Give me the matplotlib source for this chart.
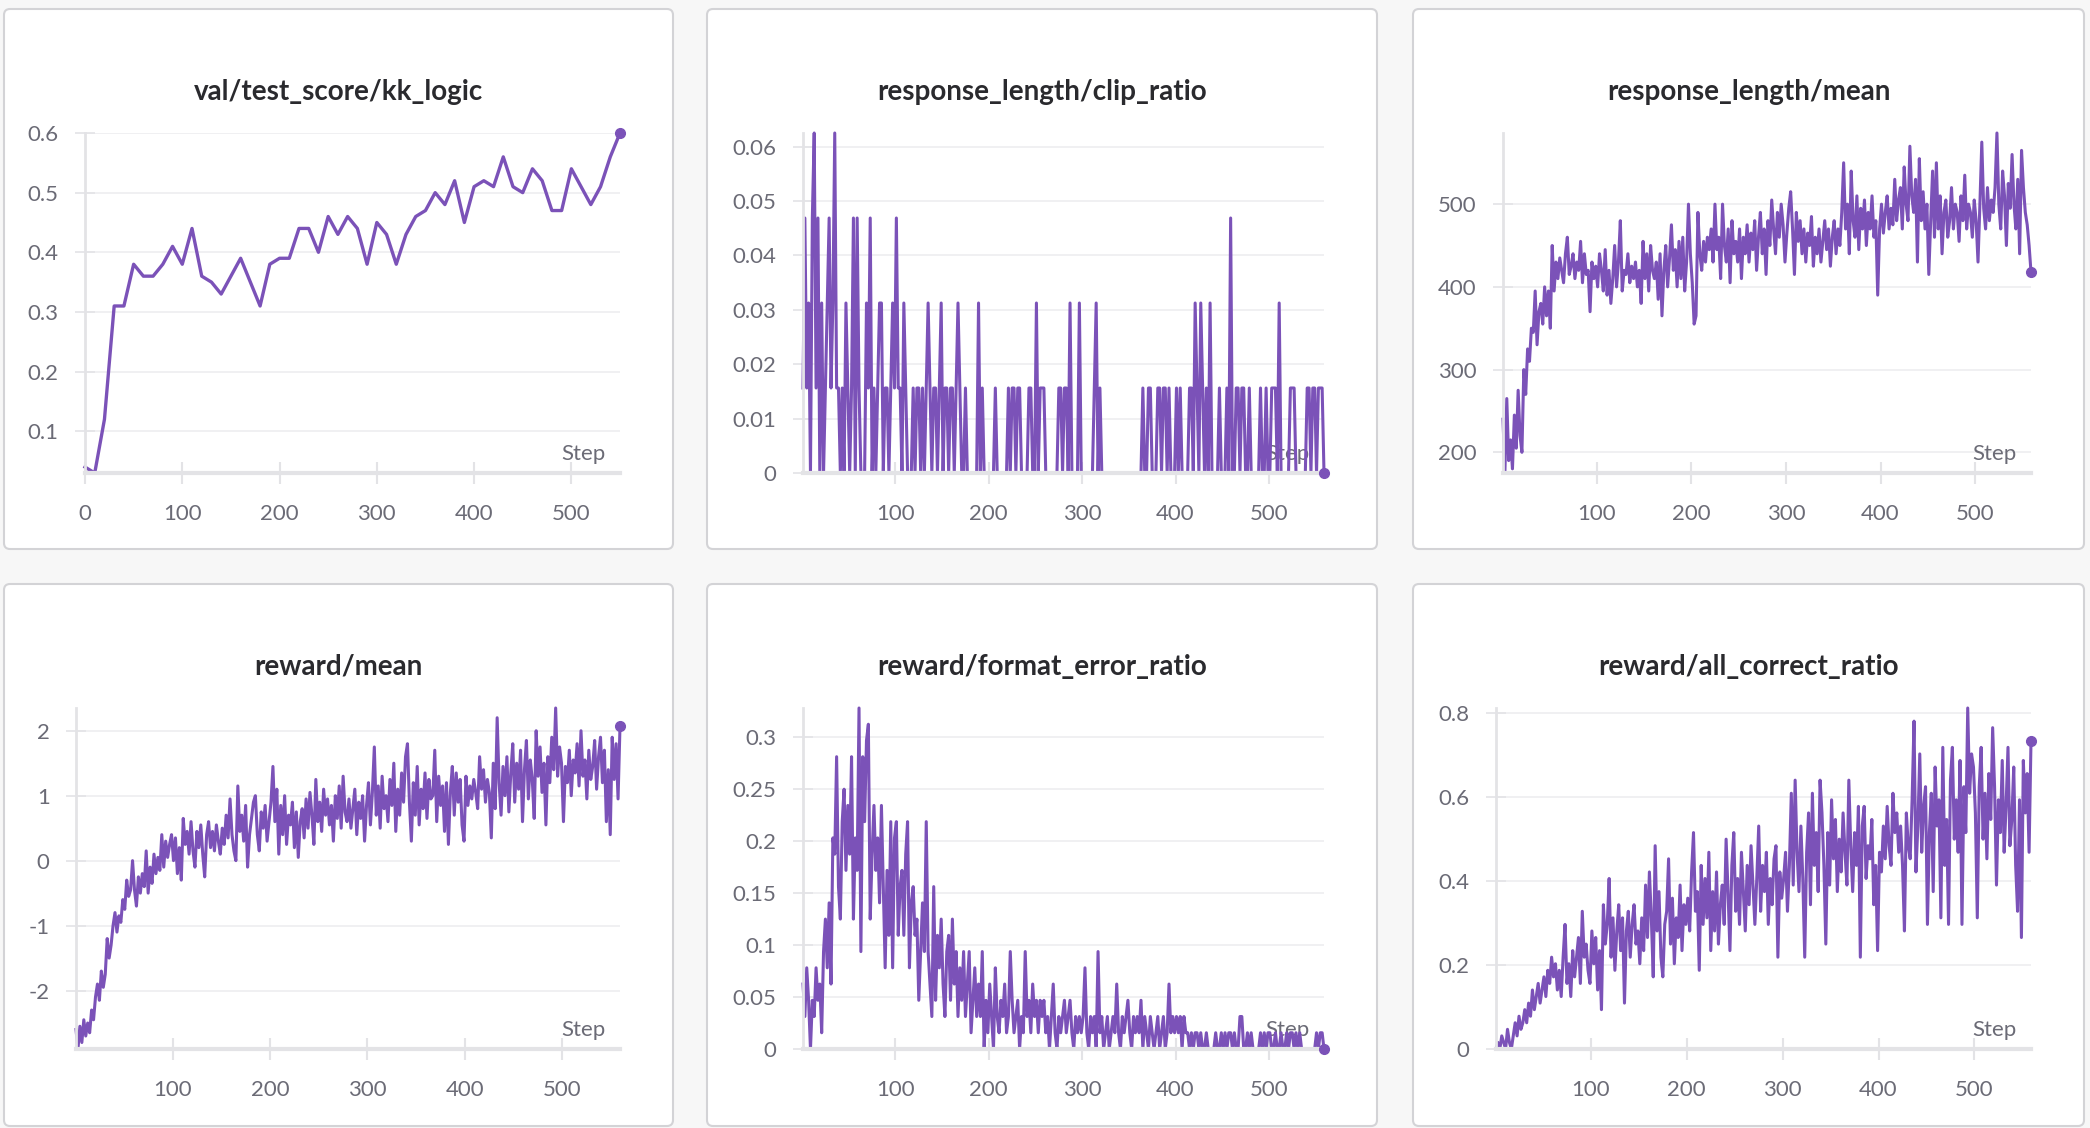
import matplotlib

matplotlib.use("Agg")
import matplotlib.pyplot as plt
from matplotlib.patches import FancyBboxPatch
from matplotlib.ticker import FuncFormatter
from matplotlib.transforms import IdentityTransform

plt.rcParams["font.family"] = ["Lato", "DejaVu Sans"]

# ---- data -------------------------------------------------------------
val_steps = list(range(0, 551, 10))
val_test_score = [
    0.04, 0.03, 0.12, 0.31, 0.31, 0.38, 0.36, 0.36, 0.38, 0.41,
    0.38, 0.44, 0.36, 0.35, 0.33, 0.36, 0.39, 0.35, 0.31, 0.38,
    0.39, 0.39, 0.44, 0.44, 0.40, 0.46, 0.43, 0.46, 0.44, 0.38,
    0.45, 0.43, 0.38, 0.43, 0.46, 0.47, 0.50, 0.48, 0.52, 0.45,
    0.51, 0.52, 0.51, 0.56, 0.51, 0.50, 0.54, 0.52, 0.47, 0.47,
    0.54, 0.51, 0.48, 0.51, 0.56, 0.60,
]

# training metrics, read every 2nd step (1, 3, ..., 559)
train_steps = list(range(1, 560, 2))

# ratios are logged in units of 1/64 (batch of 64 prompts)
clip_ratio_64 = [
    1, 3, 1, 2, 0, 3, 4, 1, 3, 0,
    2, 0, 1, 2, 3, 1, 2, 4, 1, 1,
    0, 1, 0, 2, 1, 0, 1, 3, 0, 3,
    1, 0, 0, 0, 2, 1, 3, 0, 1, 0,
    1, 2, 2, 0, 1, 1, 0, 1, 2, 1,
    3, 1, 1, 0, 2, 1, 0, 0, 0, 1,
    0, 1, 1, 0, 1, 0, 1, 2, 1, 0,
    1, 1, 0, 1, 2, 0, 1, 1, 0, 1,
    1, 0, 1, 2, 1, 0, 0, 1, 0, 0,
    0, 0, 0, 0, 2, 0, 1, 0, 0, 0,
    0, 0, 0, 1, 0, 0, 0, 0, 0, 0,
    1, 0, 1, 1, 0, 1, 1, 0, 0, 0,
    0, 1, 1, 0, 0, 2, 0, 1, 1, 1,
    0, 0, 0, 0, 0, 0, 0, 1, 1, 0,
    1, 1, 0, 2, 0, 0, 0, 0, 2, 0,
    0, 0, 0, 0, 0, 0, 1, 2, 0, 1,
    0, 0, 0, 0, 0, 0, 0, 0, 0, 0,
    0, 0, 0, 0, 0, 0, 0, 0, 0, 0,
    0, 0, 1, 0, 0, 1, 1, 0, 0, 0,
    1, 1, 0, 1, 1, 0, 1, 0, 0, 0,
    1, 0, 1, 0, 0, 0, 0, 1, 1, 0,
    2, 1, 0, 2, 1, 0, 1, 0, 2, 0,
    0, 0, 0, 1, 0, 0, 0, 1, 0, 3,
    0, 0, 1, 1, 0, 1, 1, 0, 0, 1,
    0, 0, 0, 0, 0, 1, 0, 0, 1, 0,
    0, 1, 1, 1, 0, 2, 0, 0, 0, 0,
    0, 1, 1, 1, 0, 0, 0, 0, 0, 0,
    1, 1, 0, 1, 1, 0, 1, 1, 1, 0,
]

response_length_mean = [
    240, 175, 265, 190, 215, 180, 245, 205, 275, 220,
    200, 300, 270, 325, 310, 350, 345, 395, 330, 370,
    380, 355, 400, 365, 395, 350, 450, 395, 430, 410,
    435, 420, 405, 440, 460, 415, 425, 440, 410, 430,
    420, 455, 405, 440, 415, 420, 370, 430, 410, 425,
    400, 440, 420, 395, 445, 390, 420, 380, 410, 450,
    400, 430, 480, 395, 420, 415, 440, 405, 425, 410,
    430, 400, 420, 380, 455, 410, 440, 395, 450, 420,
    410, 430, 385, 440, 365, 420, 450, 400, 435, 475,
    420, 445, 400, 455, 410, 460, 395, 430, 500, 440,
    405, 355, 365, 490, 440, 420, 455, 430, 460, 445,
    470, 430, 500, 445, 460, 410, 500, 450, 430, 470,
    405, 480, 440, 455, 430, 470, 410, 460, 440, 475,
    430, 465, 445, 480, 420, 460, 490, 440, 470, 415,
    480, 450, 505, 470, 440, 490, 460, 500, 475, 430,
    465, 495, 515, 470, 415, 490, 455, 480, 440, 470,
    430, 465, 450, 485, 425, 460, 440, 470, 430, 455,
    480, 445, 470, 425, 460, 480, 440, 470, 450, 490,
    550, 470, 500, 440, 540, 480, 460, 510, 445, 495,
    470, 505, 450, 490, 470, 510, 460, 480, 390, 470,
    500, 465, 490, 510, 470, 495, 475, 530, 480, 505,
    520, 470, 545, 500, 480, 570, 510, 490, 530, 430,
    555, 480, 515, 470, 500, 415, 480, 540, 460, 550,
    470, 510, 440, 490, 505, 460, 480, 520, 470, 500,
    490, 455, 510, 480, 535, 470, 500, 490, 460, 505,
    480, 430, 500, 575, 495, 470, 520, 480, 505, 490,
    520, 586, 500, 470, 540, 510, 450, 525, 495, 560,
    500, 470, 530, 440, 565, 520, 490, 475, 450, 418,
]

reward_mean = [
    -2.60, -2.90, -2.55, -2.80, -2.45, -2.70, -2.50, -2.65, -2.30, -2.45,
    -2.10, -1.90, -2.15, -1.70, -1.95, -1.75, -1.20, -1.50, -1.30, -1.00,
    -0.80, -1.10, -0.85, -0.95, -0.60, -0.75, -0.30, -0.55, -0.45, 0.00,
    -0.45, -0.70, -0.25, -0.50, -0.20, -0.40, 0.15, -0.50, -0.10, -0.35,
    0.10, -0.20, 0.05, -0.15, 0.40, -0.10, 0.30, 0.05, 0.25, 0.40,
    0.00, 0.35, -0.20, 0.20, -0.30, 0.65, 0.25, 0.45, 0.10, 0.60,
    0.15, -0.10, 0.45, 0.20, 0.55, 0.10, -0.25, 0.40, 0.60, 0.20,
    0.45, 0.15, 0.55, 0.30, 0.10, 0.50, 0.25, 0.70, 0.35, 0.95,
    0.40, 0.15, 0.00, 1.15, 0.45, 0.70, 0.30, 0.85, -0.10, 0.40,
    0.65, 0.90, 1.00, 0.40, 0.15, 0.75, 0.50, 0.85, 0.30, 0.60,
    0.90, 1.45, 0.60, 1.10, 0.10, 0.85, 0.40, 1.00, 0.25, 0.70,
    0.55, 0.90, 0.20, 0.75, 0.05, 0.60, 0.80, 0.35, 0.95, 0.50,
    1.05, 0.70, 0.25, 1.25, 0.60, 0.90, 0.45, 1.10, 0.70, 0.95,
    0.55, 0.85, 0.30, 1.00, 0.65, 1.15, 0.50, 1.30, 0.75, 0.60,
    0.95, 0.50, 0.80, 1.10, 0.40, 0.90, 0.65, 1.00, 0.30, 0.85,
    1.20, 0.55, 1.05, 1.75, 0.70, 1.15, 0.50, 1.30, 0.80, 1.00,
    0.60, 1.25, 0.85, 1.50, 0.45, 1.10, 0.70, 1.35, 0.90, 1.60,
    1.80, 0.90, 0.30, 1.20, 0.70, 1.45, 0.55, 1.10, 0.80, 1.35,
    0.65, 1.25, 0.95, 1.00, 1.70, 0.60, 1.30, 0.85, 1.15, 0.45,
    1.20, 0.25, 1.05, 1.45, 0.70, 1.35, 0.90, 1.25, 0.55, 0.30,
    1.30, 0.85, 1.15, 0.95, 1.25, 1.05, 0.80, 1.60, 1.10, 1.40,
    0.90, 1.25, 1.05, 0.35, 1.50, 0.80, 2.20, 1.20, 0.70, 1.45,
    1.00, 1.60, 0.75, 1.35, 1.80, 0.90, 1.50, 1.10, 1.70, 0.60,
    1.40, 1.85, 0.95, 1.55, 1.25, 0.65, 2.00, 1.30, 1.75, 1.05,
    1.50, 0.55, 1.60, 1.20, 1.90, 1.40, 2.35, 1.30, 1.75, 1.50,
    0.60, 1.45, 1.20, 1.70, 1.00, 1.55, 1.35, 1.80, 1.15, 2.00,
    1.30, 1.55, 0.95, 1.70, 1.25, 1.45, 1.85, 1.10, 1.60, 1.90,
    1.20, 1.70, 0.60, 1.40, 0.40, 1.90, 1.25, 1.80, 0.95, 2.07,
]

format_error_64 = [
    4, 2, 5, 3, 0, 3, 2, 5, 3, 4,
    1, 6, 8, 5, 9, 4, 13, 12, 18, 10,
    8, 14, 16, 11, 15, 12, 18, 8, 13, 11,
    21, 6, 18, 14, 19, 20, 8, 12, 15, 11,
    13, 9, 15, 10, 5, 11, 7, 14, 5, 13,
    14, 7, 10, 11, 7, 12, 14, 5, 9, 10,
    7, 8, 3, 6, 9, 6, 14, 6, 4, 2,
    10, 3, 7, 5, 8, 4, 2, 6, 7, 3,
    8, 4, 6, 2, 5, 3, 6, 2, 4, 6,
    1, 3, 5, 2, 4, 2, 6, 0, 3, 1,
    4, 2, 0, 5, 2, 1, 3, 2, 4, 1,
    2, 6, 3, 1, 2, 3, 0, 2, 1, 6,
    2, 3, 1, 4, 2, 3, 1, 3, 2, 3,
    1, 2, 0, 2, 4, 1, 0, 2, 1, 2,
    3, 1, 2, 3, 1, 0, 2, 1, 2, 1,
    2, 5, 1, 0, 2, 1, 2, 0, 6, 1,
    2, 0, 1, 2, 0, 1, 2, 1, 4, 1,
    0, 2, 1, 2, 3, 1, 0, 2, 1, 2,
    1, 3, 0, 2, 1, 0, 2, 1, 0, 1,
    2, 0, 1, 2, 0, 1, 4, 1, 2, 1,
    2, 1, 2, 0, 2, 1, 1, 0, 1, 0,
    1, 1, 0, 1, 0, 0, 1, 0, 0, 0,
    0, 1, 0, 0, 1, 0, 1, 0, 1, 1,
    0, 1, 0, 0, 2, 2, 0, 0, 1, 0,
    1, 0, 0, 0, 0, 1, 0, 1, 0, 1,
    1, 0, 0, 1, 0, 0, 1, 0, 0, 1,
    0, 1, 1, 0, 1, 0, 1, 0, 0, 0,
    0, 0, 0, 0, 0, 1, 0, 1, 1, 0,
]

all_correct_64 = [
    0, 1, 0, 2, 1, 0, 3, 1, 0, 2,
    4, 2, 5, 3, 4, 6, 4, 7, 5, 9,
    6, 8, 10, 7, 9, 11, 8, 12, 10, 14,
    11, 13, 9, 12, 8, 14, 19, 10, 13, 8,
    15, 11, 14, 17, 10, 21, 14, 16, 12, 10,
    18, 13, 17, 9, 15, 6, 22, 16, 19, 26,
    14, 20, 12, 18, 22, 15, 20, 7, 18, 21,
    14, 19, 22, 16, 18, 13, 20, 15, 25, 17,
    27, 20, 11, 31, 18, 24, 14, 11, 19, 21,
    29, 16, 23, 13, 20, 17, 25, 15, 22, 19,
    23, 18, 27, 33, 21, 24, 12, 28, 19, 26,
    20, 30, 15, 24, 18, 27, 16, 22, 25, 19,
    32, 24, 15, 28, 33, 21, 26, 19, 30, 24,
    18, 28, 22, 31, 25, 19, 26, 34, 21, 28,
    24, 30, 19, 26, 22, 29, 31, 14, 27, 23,
    26, 30, 21, 28, 39, 25, 41, 30, 24, 34,
    26, 14, 30, 36, 22, 39, 28, 33, 24, 41,
    36, 28, 16, 33, 25, 38, 29, 35, 24, 32,
    27, 36, 30, 25, 41, 31, 24, 33, 28, 37,
    14, 34, 37, 26, 31, 29, 35, 22, 28, 15,
    30, 27, 34, 29, 37, 31, 28, 39, 33, 36,
    30, 34, 28, 18, 36, 31, 29, 38, 50, 27,
    34, 45, 30, 37, 40, 19, 33, 39, 24, 43,
    34, 38, 20, 46, 28, 35, 19, 41, 46, 32,
    38, 30, 44, 19, 40, 33, 52, 39, 45, 43,
    36, 20, 40, 46, 32, 39, 29, 42, 35, 49,
    40, 25, 38, 33, 44, 30, 37, 46, 31, 35,
    43, 28, 21, 38, 17, 44, 36, 42, 30, 47,
]

# ---- style ------------------------------------------------------------
W, H = 2090, 1128
LINE = "#7b52b8"
TEXT = "#6b6b76"
TITLE = "#2a2a2e"
AXIS = "#e3e3e6"
GRID = "#ededf0"

fig = plt.figure(figsize=(W / 100, H / 100), dpi=100, facecolor="#f7f7f7")

fmt = FuncFormatter(lambda v, _: f"{v:g}")


def panel(box, axes_px, title, title_y, x, y, yticks, xticks, lw=2.2):
    x0, y0, x1, y1 = box
    card = FancyBboxPatch(
        (x0, H - y1), x1 - x0, y1 - y0,
        boxstyle="round,pad=0,rounding_size=6",
        transform=IdentityTransform(),
        facecolor="white", edgecolor="#d3d3d6", linewidth=1.5, zorder=0,
    )
    fig.add_artist(card)
    fig.text((x0 + x1) / 2 / W, 1 - title_y / H, title, ha="center", va="center",
             fontsize=20, fontweight="bold", color=TITLE)

    l, t, r, b = axes_px
    ax = fig.add_axes([l / W, 1 - b / H, (r - l) / W, (b - t) / H])
    ax.set_facecolor("none")
    ax.plot(x, y, color=LINE, lw=lw, solid_joinstyle="round", clip_on=False, zorder=2)
    ax.plot(x[-1], y[-1], "o", ms=7, color=LINE, clip_on=False, zorder=3)

    ax.set_xlim(x[0], x[-1] if x[0] == 0 else 559)
    ax.set_ylim(min(y), max(y))
    ax.set_xticks(xticks)
    ax.set_yticks(yticks)
    ax.yaxis.set_major_formatter(fmt)

    for s in ("top", "right"):
        ax.spines[s].set_visible(False)
    ax.spines["left"].set_color(AXIS)
    ax.spines["left"].set_linewidth(2)
    ax.spines["bottom"].set_color(AXIS)
    ax.spines["bottom"].set_linewidth(3)
    ax.grid(axis="y", color=GRID, lw=1.2)
    ax.set_axisbelow(True)
    ax.tick_params(axis="x", direction="inout", length=16, width=1.5, color=AXIS,
                   pad=14, labelsize=16, labelcolor=TEXT)
    ax.tick_params(axis="y", direction="inout", length=14, width=1.2, color=AXIS,
                   pad=12, labelsize=16, labelcolor=TEXT)
    ax.annotate("Step", xy=(1, 0), xycoords="axes fraction", xytext=(-14, 9),
                textcoords="offset pixels", ha="right", va="bottom",
                fontsize=16, color=TEXT, zorder=1)
    return ax


cols = [(4, 673), (707, 1377), (1413, 2084)]
rows = [(9, 549), (584, 1126)]
steps_ticks = [100, 200, 300, 400, 500]

clip_ratio = [c / 64 for c in clip_ratio_64]
format_error = [c / 64 for c in format_error_64]
all_correct = [c / 64 for c in all_correct_64]

panel((cols[0][0], rows[0][0], cols[0][1], rows[0][1]), (85, 133, 620, 473),
      "val/test_score/kk_logic", 92, val_steps, val_test_score,
      [0.1, 0.2, 0.3, 0.4, 0.5, 0.6], [0] + steps_ticks, lw=2.4)
panel((cols[1][0], rows[0][0], cols[1][1], rows[0][1]), (803, 133, 1324, 473),
      "response_length/clip_ratio", 92, train_steps, clip_ratio,
      [0, 0.01, 0.02, 0.03, 0.04, 0.05, 0.06], steps_ticks)
panel((cols[2][0], rows[0][0], cols[2][1], rows[0][1]), (1503, 133, 2031, 473),
      "response_length/mean", 92, train_steps, response_length_mean,
      [200, 300, 400, 500], steps_ticks)
panel((cols[0][0], rows[1][0], cols[0][1], rows[1][1]), (76, 708, 620, 1049),
      "reward/mean", 667, train_steps, reward_mean,
      [-2, -1, 0, 1, 2], steps_ticks)
panel((cols[1][0], rows[1][0], cols[1][1], rows[1][1]), (803, 708, 1324, 1049),
      "reward/format_error_ratio", 667, train_steps, format_error,
      [0, 0.05, 0.1, 0.15, 0.2, 0.25, 0.3], steps_ticks)
panel((cols[2][0], rows[1][0], cols[2][1], rows[1][1]), (1496, 708, 2031, 1049),
      "reward/all_correct_ratio", 667, train_steps, all_correct,
      [0, 0.2, 0.4, 0.6, 0.8], steps_ticks)

fig.savefig("out.png", dpi=100, facecolor=fig.get_facecolor())
